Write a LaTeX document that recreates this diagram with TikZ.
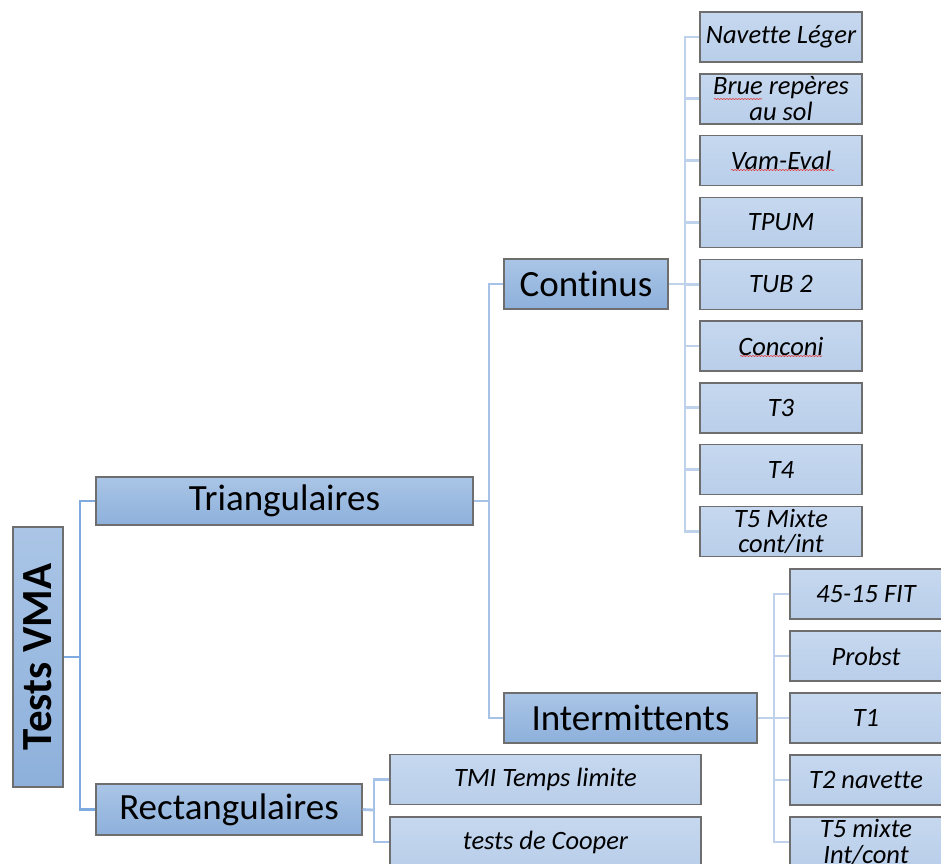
\documentclass[tikz,border=0pt]{standalone}
\usepackage{fontspec}
\setmainfont{Carlito}[Ligatures=NoCommon]
\usetikzlibrary{decorations.pathmorphing}
\definecolor{bordc}{HTML}{6E6E6E}
\definecolor{lvtop}{HTML}{AAC5E6}
\definecolor{lvbot}{HTML}{8DB0DB}
\definecolor{lftop}{HTML}{C6D8EF}
\definecolor{lfbot}{HTML}{B9CEEA}
\definecolor{linea}{HTML}{7DAADF}
\definecolor{lineb}{HTML}{A6C2E7}
\definecolor{linec}{HTML}{BFD2EC}
\definecolor{spell}{HTML}{E04040}
\begin{document}
\begin{tikzpicture}[x=1pt,y=-1pt,
  lvbox/.style={draw=bordc,line width=1.4pt,top color=lvtop,bottom color=lvbot,inner sep=0pt,font=\fontsize{37}{40}\selectfont},
  leafbox/.style={draw=bordc,line width=1.4pt,top color=lftop,bottom color=lfbot,inner sep=0pt,align=center,font=\fontsize{26.5}{25.5}\selectfont\itshape},
  cwide/.style={leafbox,minimum width=162pt,minimum height=50pt},
  iwide/.style={leafbox,minimum width=152pt,minimum height=50pt},
  rwide/.style={leafbox,minimum width=311pt,minimum height=50pt},
  conna/.style={draw=linea,line width=2.8pt},
  connb/.style={draw=lineb,line width=2.8pt},
  connc/.style={draw=linec,line width=2.8pt},
  spellline/.style={draw=spell,line width=0.6pt,decorate,decoration={snake,amplitude=0.6pt,segment length=3pt}}
]
\useasboundingbox (0,0) rectangle (941,863);

\coordinate (j1) at (80,657);
\coordinate (j2) at (489,501);
\coordinate (j3) at (685,284);
\coordinate (j4) at (774,718);
\coordinate (j5) at (374,810);

% boxes
\node[lvbox,minimum width=50pt,minimum height=260pt] (vma) at (38,657) {};
\node[rotate=90,font=\fontsize{43}{44}\selectfont\bfseries] (vmat) at (vma.center) {Tests VMA};
\node[lvbox,minimum width=377pt,minimum height=48pt] (tri) at (284.5,501) {Triangulaires};
\node[lvbox,minimum width=266pt,minimum height=51pt] (rect) at (229,809.5) {Rectangulaires};
\node[lvbox,minimum width=164pt,minimum height=50pt] (cont) at (586,284) {Continus};
\node[lvbox,minimum width=253pt,minimum height=50pt] (inter) at (630.5,718) {Intermittents};

\node[cwide] (c1) at (781,37) {Navette Léger};
\node[cwide] (c2) at (781,98.8) {Brue repères\\au sol};
\node[cwide] (c3) at (781,160.6) {Vam-Eval};
\node[cwide] (c4) at (781,222.4) {TPUM};
\node[cwide] (c5) at (781,284.2) {TUB 2};
\node[cwide] (c6) at (781,346) {Conconi};
\node[cwide] (c7) at (781,407.8) {T3};
\node[cwide] (c8) at (781,469.6) {T4};
\node[cwide] (c9) at (781,531.4) {T5 Mixte\\cont/int};

\node[iwide] (i1) at (866,594) {45-15 FIT};
\node[iwide] (i2) at (866,656) {Probst};
\node[iwide] (i3) at (866,718) {T1};
\node[iwide] (i4) at (866,780) {T2 navette};
\node[iwide] (i5) at (866,842) {T5 mixte\\Int/cont};

\node[rwide] (r1) at (545.5,779.5) {TMI Temps limite};
\node[rwide] (r2) at (545.5,842) {tests de Cooper};

% connectors
\draw[conna] (vma.east) -- (j1);
\draw[conna] (tri.west) -| (j1) |- (rect.west);
\draw[connb] (tri.east) -- (j2);
\draw[connb] (cont.west) -| (j2) |- (inter.west);
\draw[connc] (cont.east) -- (j3);
\draw[connc] (c1.west) -| (j3) |- (c9.west);
\foreach \k in {2,...,8} { \draw[connc] (c\k.west) -- (c\k.west -| j3); }
\draw[connc] (inter.east) -- (j4);
\draw[connc] (i1.west) -| (j4) |- (i5.west);
\foreach \k in {2,3,4} { \draw[connc] (i\k.west) -- (i\k.west -| j4); }
\draw[connb] (rect.east) -- (j5);
\draw[connb] (r1.west) -| (j5) |- (r2.west);

% spell-check underlines
\draw[spellline] (714,99) -- (762,99);
\draw[spellline] (731,170) -- (834,170);
\draw[spellline] (740,356) -- (822,356);
\end{tikzpicture}
\end{document}
